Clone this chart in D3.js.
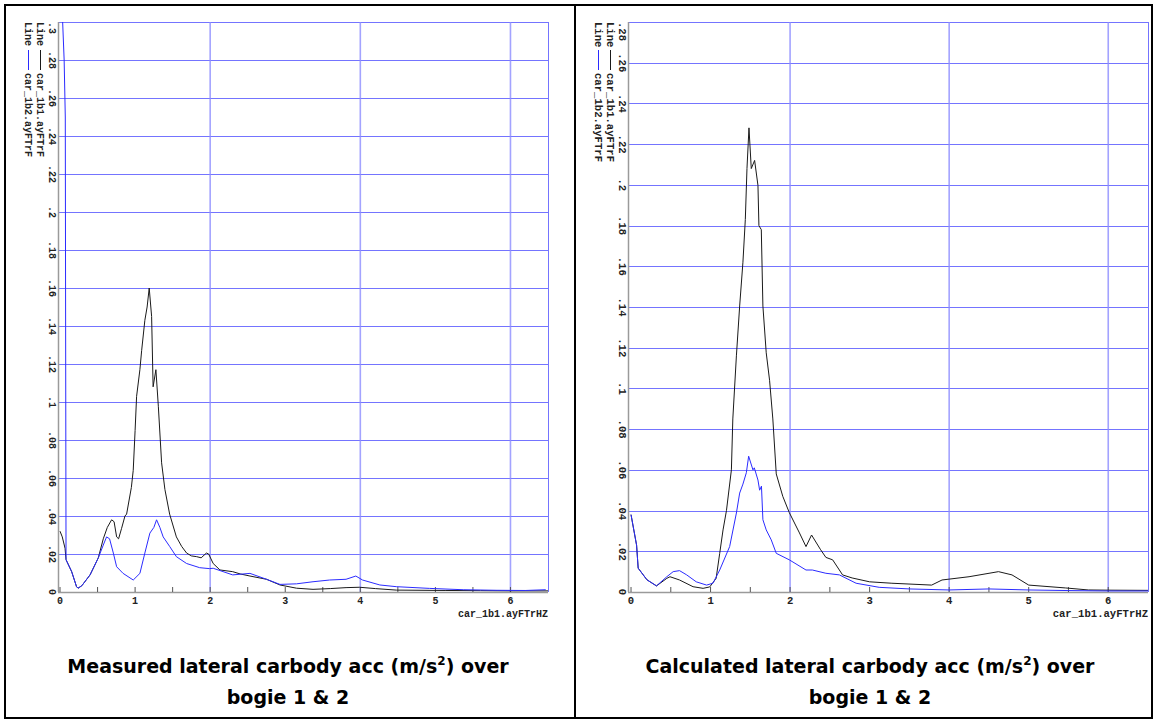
<!DOCTYPE html>
<html lang="en">
<head>
  <meta charset="UTF-8">
  <title>Lateral carbody acceleration spectra</title>
  <script src="https://cdn.jsdelivr.net/npm/d3@7"></script>
  <style>
    body {
      margin: 0;
      padding: 0;
      background-color: #fff;
    }
  </style>
</head>
<body>
<div id="chart"></div>

<script>
  // Measured spectrum, bogie 1 (black) and bogie 2 (blue)
  const measFreq1 = [0, 0.03, 0.067, 0.08, 0.155, 0.22, 0.24, 0.29, 0.4, 0.51, 0.576, 0.63, 0.687, 0.72, 0.754, 0.78, 0.82, 0.865, 0.887, 0.95, 0.975, 1.0, 1.02, 1.064, 1.087, 1.13, 1.16, 1.188, 1.22, 1.24, 1.277, 1.31, 1.353, 1.397, 1.46, 1.55, 1.62, 1.686, 1.75, 1.82, 1.88, 1.95, 1.98, 2.04, 2.13, 2.3, 2.4, 2.53, 2.75, 2.93, 3.15, 3.37, 3.6, 3.81, 3.99, 4.2, 4.48, 5.14, 5.6, 6.0, 6.5];
  const measAcc1 = [0.032, 0.029, 0.023, 0.017, 0.0107, 0.0028, 0.002, 0.0033, 0.009, 0.018, 0.028, 0.034, 0.038, 0.037, 0.029, 0.028, 0.0335, 0.04, 0.041, 0.055, 0.064, 0.085, 0.103, 0.117, 0.127, 0.143, 0.15, 0.16, 0.145, 0.108, 0.117, 0.0975, 0.068, 0.054, 0.041, 0.029, 0.024, 0.0205, 0.019, 0.0186, 0.018, 0.0205, 0.02, 0.015, 0.0116, 0.0107, 0.0095, 0.0084, 0.0067, 0.0037, 0.002, 0.0014, 0.0018, 0.0023, 0.0025, 0.0018, 0.001, 0.0008, 0.0007, 0.0006, 0.0006];
  const measFreq2 = [0, 0.035, 0.055, 0.07, 0.08, 0.155, 0.22, 0.24, 0.29, 0.4, 0.51, 0.576, 0.62, 0.66, 0.71, 0.754, 0.84, 0.975, 1.064, 1.13, 1.197, 1.25, 1.286, 1.33, 1.374, 1.46, 1.55, 1.686, 1.86, 1.99, 2.04, 2.3, 2.53, 2.75, 2.93, 3.15, 3.37, 3.59, 3.81, 3.94, 4.03, 4.26, 4.48, 4.92, 5.37, 5.81, 6.2, 6.47];
  const measAcc2 = [0.6, 0.3, 0.28, 0.25, 0.017, 0.0107, 0.0028, 0.002, 0.0033, 0.009, 0.018, 0.0247, 0.029, 0.028, 0.0205, 0.0133, 0.0098, 0.0063, 0.0098, 0.0205, 0.031, 0.034, 0.038, 0.034, 0.029, 0.024, 0.0186, 0.015, 0.0128, 0.0123, 0.0125, 0.009, 0.0098, 0.0067, 0.004, 0.0043, 0.0054, 0.0063, 0.0067, 0.0084, 0.0063, 0.0037, 0.0028, 0.0019, 0.0012, 0.0009, 0.0008, 0.0012];

  // Calculated spectrum, bogie 1 (black) and bogie 2 (blue)
  const calcFreq1 = [0, 0.07, 0.09, 0.2, 0.32, 0.45, 0.49, 0.61, 0.78, 0.906, 0.99, 1.07, 1.115, 1.157, 1.2, 1.262, 1.28, 1.325, 1.366, 1.407, 1.437, 1.458, 1.483, 1.512, 1.554, 1.596, 1.608, 1.638, 1.658, 1.70, 1.742, 1.783, 1.826, 1.908, 1.99, 2.118, 2.2, 2.27, 2.38, 2.45, 2.535, 2.66, 2.78, 3.0, 3.28, 3.78, 3.91, 4.25, 4.62, 4.79, 5.0, 5.46, 5.75, 6.0, 6.5];
  const calcAcc1 = [0.038, 0.023, 0.0117, 0.006, 0.003, 0.0067, 0.0075, 0.0059, 0.0026, 0.0018, 0.0025, 0.0067, 0.019, 0.0305, 0.04, 0.06, 0.085, 0.116, 0.1405, 0.162, 0.183, 0.208, 0.228, 0.208, 0.212, 0.1997, 0.18, 0.178, 0.1405, 0.1175, 0.104, 0.085, 0.058, 0.047, 0.039, 0.029, 0.0223, 0.028, 0.021, 0.017, 0.0158, 0.0084, 0.0069, 0.005, 0.0043, 0.0034, 0.0059, 0.0075, 0.01, 0.0084, 0.0034, 0.002, 0.001, 0.0009, 0.0008];
  const calcFreq2 = [0, 0.07, 0.09, 0.2, 0.32, 0.45, 0.53, 0.61, 0.7, 0.82, 0.95, 1.03, 1.115, 1.24, 1.325, 1.366, 1.407, 1.45, 1.479, 1.533, 1.55, 1.596, 1.617, 1.64, 1.658, 1.70, 1.763, 1.826, 1.99, 2.2, 2.28, 2.45, 2.62, 2.83, 3.12, 3.5, 4.0, 4.5, 5.0, 5.5, 6.0, 6.5];
  const calcAcc2 = [0.038, 0.023, 0.0117, 0.006, 0.003, 0.0075, 0.01, 0.0105, 0.0084, 0.005, 0.0034, 0.0043, 0.0108, 0.0223, 0.0388, 0.0486, 0.053, 0.0586, 0.0667, 0.060, 0.061, 0.055, 0.050, 0.052, 0.0355, 0.0305, 0.0256, 0.019, 0.0158, 0.0108, 0.0108, 0.0092, 0.0084, 0.0043, 0.0023, 0.0015, 0.001, 0.0015, 0.001, 0.0007, 0.0005, 0.0005];

  // Tick labels and texts
  const xTickLabels = ["0", "1", "2", "3", "4", "5", "6"];
  const legendNames = ["car_1b1.ayFTrF", "car_1b2.ayFTrF"];
  const xTitle = "car_1b1.ayFTrHZ";
  const captionWords = ["Measured", "Calculated"];

  const width = 1157;
  const height = 722;

  const svg = d3.select("#chart").append("svg")
          .attr("width", width)
          .attr("height", height)
          .style("display", "block");

  // Table borders round the two cells
  svg.append("rect")
          .attr("x", 5).attr("y", 5)
          .attr("width", 1147).attr("height", 713)
          .attr("fill", "none")
          .attr("stroke", "#000")
          .attr("stroke-width", 2);
  svg.append("line")
          .attr("x1", 575).attr("x2", 575)
          .attr("y1", 5).attr("y2", 718)
          .attr("stroke", "#000")
          .attr("stroke-width", 2);

  const panels = [
    { left: 58, right: 548, x0: -0.027, yMax: 0.3, fs: 10, cx: 288,
      series: [[measFreq1, measAcc1], [measFreq2, measAcc2]], word: captionWords[0] },
    { left: 628, right: 1148, x0: -0.038, yMax: 0.28, fs: 10.6, cx: 870,
      series: [[calcFreq1, calcAcc1], [calcFreq2, calcAcc2]], word: captionWords[1] }
  ];
  const plotTop = 22, plotBottom = 592;
  const lineColors = ["#1a1a1a", "#2b2bff"];
  const capFont = "bold 19px 'DejaVu Sans', Verdana, sans-serif";

  panels.forEach((p, pi) => {
    const x = d3.scaleLinear().domain([p.x0, 6.5]).range([p.left, p.right]);
    const y = d3.scaleLinear().domain([0, p.yMax]).range([plotBottom, plotTop]);
    const g = svg.append("g");
    const mono = `bold ${p.fs}px 'Liberation Mono', 'DejaVu Sans Mono', monospace`;

    // Horizontal grid every .02
    const yTicks = d3.range(0, Math.round(p.yMax / 0.02) + 1).map(i => i * 0.02);
    g.append("g").selectAll("line")
            .data(yTicks.slice(1))
            .join("line")
            .attr("x1", p.left).attr("x2", p.right)
            .attr("y1", d => Math.round(y(d)) + 0.5)
            .attr("y2", d => Math.round(y(d)) + 0.5)
            .attr("stroke", "#7474ff")
            .attr("stroke-width", 1);

    // Vertical grid at 2, 4, 6 and the right frame
    g.append("g").selectAll("line")
            .data([2, 4, 6])
            .join("line")
            .attr("x1", d => x(d)).attr("x2", d => x(d))
            .attr("y1", plotTop).attr("y2", plotBottom)
            .attr("stroke", "#8c8cff")
            .attr("stroke-width", 1.6)
            .attr("stroke-opacity", 0.8);
    g.append("line")
            .attr("x1", p.right + 0.5).attr("x2", p.right + 0.5)
            .attr("y1", plotTop).attr("y2", plotBottom)
            .attr("stroke", "#7474ff");

    // Axes lines
    g.append("line")
            .attr("x1", p.left + 0.5).attr("x2", p.left + 0.5)
            .attr("y1", plotTop).attr("y2", plotBottom)
            .attr("stroke", "#9a9a9a").attr("stroke-width", 1.5);
    g.append("line")
            .attr("x1", p.left).attr("x2", p.right)
            .attr("y1", plotBottom + 0.5).attr("y2", plotBottom + 0.5)
            .attr("stroke", "#9a9a9a").attr("stroke-width", 1.5);

    // X ticks at every half, labels at integers
    g.append("g").selectAll("line")
            .data(d3.range(0, 13).map(i => i * 0.5))
            .join("line")
            .attr("x1", d => x(d)).attr("x2", d => x(d))
            .attr("y1", plotBottom - 5).attr("y2", plotBottom)
            .attr("stroke", "#555");
    g.append("g").selectAll("text")
            .data(xTickLabels)
            .join("text")
            .attr("x", d => x(+d))
            .attr("y", 604)
            .attr("text-anchor", "middle")
            .style("font", mono)
            .attr("fill", "#222")
            .text(d => d);

    // Y tick labels, turned a quarter clockwise
    const fmt = v => v === 0 ? "0" : d3.format(".2~f")(v).replace(/^0/, "");
    g.append("g").selectAll("text")
            .data(yTicks)
            .join("text")
            .attr("transform", d => `translate(${p.left - 9},${y(d)}) rotate(90)`)
            .attr("text-anchor", d => d === p.yMax ? "start" : "middle")
            .style("font", mono)
            .attr("fill", "#222")
            .text(fmt);

    // Legend, also turned
    const leg = g.append("g").style("font", mono).attr("fill", "#222");
    legendNames.forEach((name, i) => {
      const lx = p.left - 21 - i * 12;
      const row = leg.append("g").attr("transform", `translate(${lx},${plotTop}) rotate(90)`);
      row.append("text").attr("x", 0).attr("y", 0).text("Line");
      row.append("line")
              .attr("x1", 28).attr("x2", 48)
              .attr("y1", -3.5).attr("y2", -3.5)
              .attr("stroke", lineColors[i]).attr("stroke-width", 1);
      row.append("text").attr("x", 51).attr("y", 0).text(name);
    });

    // X axis title
    g.append("text")
            .attr("x", p.right)
            .attr("y", 617)
            .attr("text-anchor", "end")
            .style("font", mono)
            .attr("fill", "#222")
            .text(xTitle);

    // Curves, clipped to the plot
    const clipId = "clip" + pi;
    svg.append("clipPath").attr("id", clipId)
            .append("rect")
            .attr("x", p.left).attr("y", plotTop)
            .attr("width", p.right - p.left).attr("height", plotBottom - plotTop);
    const line = d3.line().x(d => x(d[0])).y(d => y(d[1]));
    p.series.forEach(([fs, vs], i) => {
      g.append("path")
              .datum(fs.map((f, k) => [f, vs[k]]))
              .attr("clip-path", `url(#${clipId})`)
              .attr("fill", "none")
              .attr("stroke", lineColors[i])
              .attr("stroke-width", 1)
              .attr("d", line);
    });

    // Caption under the chart
    const cap = g.append("text")
            .attr("x", p.cx)
            .attr("y", 673)
            .attr("text-anchor", "middle")
            .style("font", capFont)
            .attr("fill", "#000");
    cap.append("tspan").text(`${p.word} lateral carbody acc (m/s`);
    cap.append("tspan").attr("dy", -8).style("font-size", "12px").text("2");
    cap.append("tspan").attr("dy", 8).text(") over");
    g.append("text")
            .attr("x", p.cx)
            .attr("y", 704)
            .attr("text-anchor", "middle")
            .style("font", capFont)
            .attr("fill", "#000")
            .text("bogie 1 & 2");
  });
</script>
</body>
</html>
